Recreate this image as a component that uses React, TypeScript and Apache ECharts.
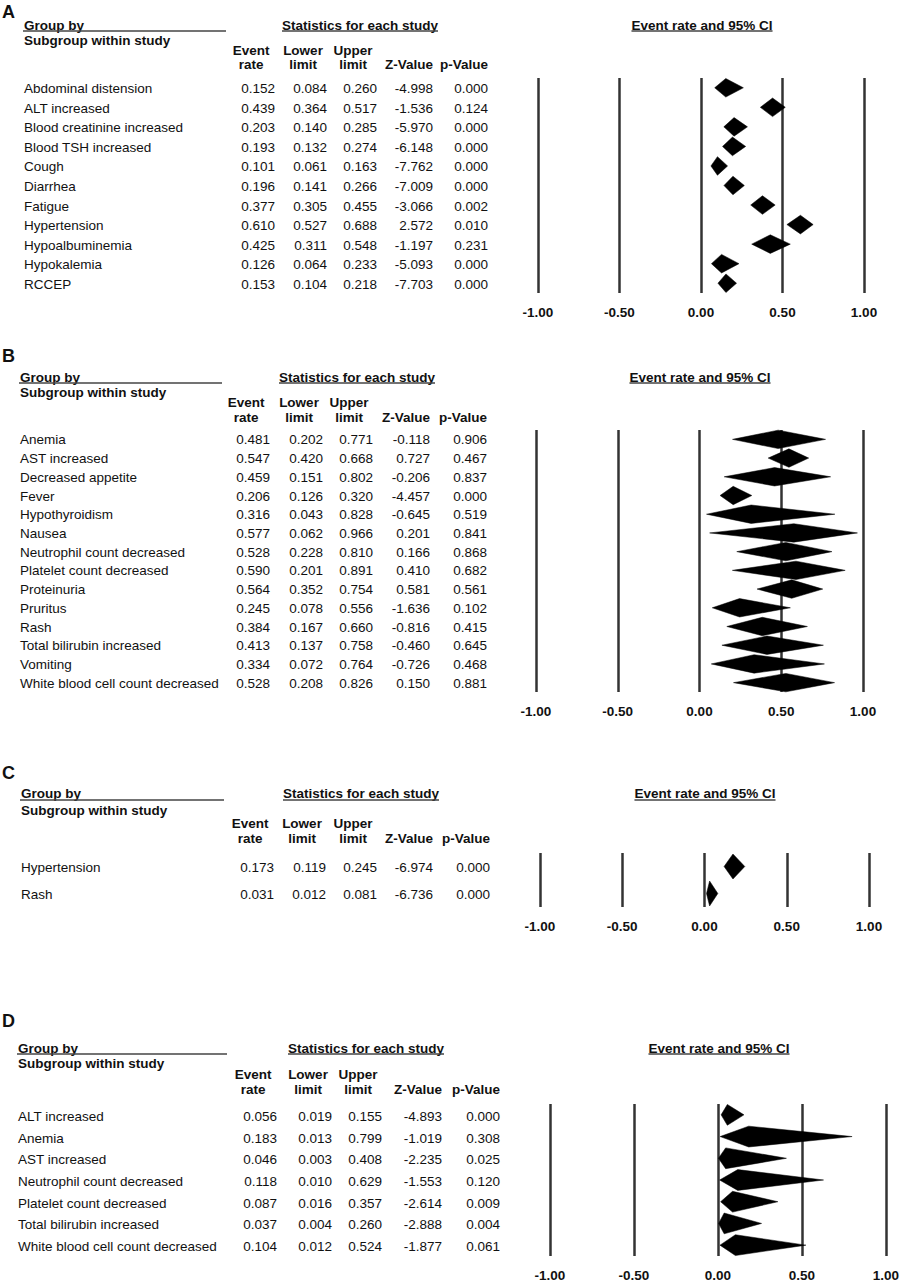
import React, { useEffect, useRef } from "react";
import * as echarts from "echarts";

const FONT = '"Liberation Sans", Arial, Helvetica, sans-serif';

// ---------- Panel A ----------
const aNames = ["Abdominal distension", "ALT increased", "Blood creatinine increased", "Blood TSH increased", "Cough", "Diarrhea", "Fatigue", "Hypertension", "Hypoalbuminemia", "Hypokalemia", "RCCEP"];
const aRate = [0.152, 0.439, 0.203, 0.193, 0.101, 0.196, 0.377, 0.610, 0.425, 0.126, 0.153];
const aLower = [0.084, 0.364, 0.140, 0.132, 0.061, 0.141, 0.305, 0.527, 0.311, 0.064, 0.104];
const aUpper = [0.260, 0.517, 0.285, 0.274, 0.163, 0.266, 0.455, 0.688, 0.548, 0.233, 0.218];
const aZ = [-4.998, -1.536, -5.970, -6.148, -7.762, -7.009, -3.066, 2.572, -1.197, -5.093, -7.703];
const aP = [0.000, 0.124, 0.000, 0.000, 0.000, 0.000, 0.002, 0.010, 0.231, 0.000, 0.000];

// ---------- Panel B ----------
const bNames = ["Anemia", "AST increased", "Decreased appetite", "Fever", "Hypothyroidism", "Nausea", "Neutrophil count decreased", "Platelet count decreased", "Proteinuria", "Pruritus", "Rash", "Total bilirubin increased", "Vomiting", "White blood cell count decreased"];
const bRate = [0.481, 0.547, 0.459, 0.206, 0.316, 0.577, 0.528, 0.590, 0.564, 0.245, 0.384, 0.413, 0.334, 0.528];
const bLower = [0.202, 0.420, 0.151, 0.126, 0.043, 0.062, 0.228, 0.201, 0.352, 0.078, 0.167, 0.137, 0.072, 0.208];
const bUpper = [0.771, 0.668, 0.802, 0.320, 0.828, 0.966, 0.810, 0.891, 0.754, 0.556, 0.660, 0.758, 0.764, 0.826];
const bZ = [-0.118, 0.727, -0.206, -4.457, -0.645, 0.201, 0.166, 0.410, 0.581, -1.636, -0.816, -0.460, -0.726, 0.150];
const bP = [0.906, 0.467, 0.837, 0.000, 0.519, 0.841, 0.868, 0.682, 0.561, 0.102, 0.415, 0.645, 0.468, 0.881];

// ---------- Panel C ----------
const cNames = ["Hypertension", "Rash"];
const cRate = [0.173, 0.031];
const cLower = [0.119, 0.012];
const cUpper = [0.245, 0.081];
const cZ = [-6.974, -6.736];
const cP = [0.000, 0.000];

// ---------- Panel D ----------
const dNames = ["ALT increased", "Anemia", "AST increased", "Neutrophil count decreased", "Platelet count decreased", "Total bilirubin increased", "White blood cell count decreased"];
const dRate = [0.056, 0.183, 0.046, 0.118, 0.087, 0.037, 0.104];
const dLower = [0.019, 0.013, 0.003, 0.010, 0.016, 0.004, 0.012];
const dUpper = [0.155, 0.799, 0.408, 0.629, 0.357, 0.260, 0.524];
const dZ = [-4.893, -1.019, -2.235, -1.553, -2.614, -2.888, -1.877];
const dP = [0.000, 0.308, 0.025, 0.120, 0.009, 0.004, 0.061];

const headTop = ["Event", "Lower", "Upper", "", ""];
const headBottom = ["rate", "limit", "limit", "Z-Value", "p-Value"];
const axisTicks = [-1, -0.5, 0, 0.5, 1];

const panels = [
  {
    letter: "A", names: aNames, rate: aRate, lower: aLower, upper: aUpper, z: aZ, p: aP,
    L: { letterY: 12, headY: 25, ulY: 31, subY: 40, evY: 50, rtY: 64, labelX: 24, ulX2: 226, cols: [275, 327, 377, 433, 488], statsX: 360, gridLeft: 538, gridWidth: 326, gridTop: 78, gridHeight: 215, titleX: 702, halfH: 9.3, tableDy: 1 },
  },
  {
    letter: "B", names: bNames, rate: bRate, lower: bLower, upper: bUpper, z: bZ, p: bP,
    L: { letterY: 356, headY: 377, ulY: 383, subY: 392, evY: 402, rtY: 417, labelX: 20, ulX2: 222, cols: [270, 323, 373, 430, 487], statsX: 357, gridLeft: 536, gridWidth: 327, gridTop: 430, gridHeight: 262, titleX: 700, halfH: 9.2, tableDy: 0.5 },
  },
  {
    letter: "C", names: cNames, rate: cRate, lower: cLower, upper: cUpper, z: cZ, p: cP,
    L: { letterY: 773, headY: 793, ulY: 800, subY: 810, evY: 823, rtY: 838, labelX: 21, ulX2: 224, cols: [274, 326, 377, 433, 490], statsX: 361, gridLeft: 540, gridWidth: 329, gridTop: 853, gridHeight: 54, titleX: 705, halfH: 12.5, tableDy: 1 },
  },
  {
    letter: "D", names: dNames, rate: dRate, lower: dLower, upper: dUpper, z: dZ, p: dP,
    L: { letterY: 1021, headY: 1048, ulY: 1054, subY: 1063, evY: 1074, rtY: 1089, labelX: 18, ulX2: 227, cols: [277, 332, 382, 442, 500], statsX: 366, gridLeft: 550, gridWidth: 337, gridTop: 1104, gridHeight: 152, titleX: 719, halfH: 10.4, tableDy: 1.5 },
  },
];

const FS = 13.5;
const TEXT = "#111";
const LINE = "#333";

let measureCtx: CanvasRenderingContext2D | null = null;
function textWidth(t: string, bold: boolean, size: number) {
  if (!measureCtx) measureCtx = document.createElement("canvas").getContext("2d");
  if (!measureCtx) return t.length * size * 0.55;
  measureCtx.font = `${bold ? "bold " : ""}${size}px ${FONT}`;
  return measureCtx.measureText(t).width;
}

function txt(text: string, x: number, y: number, align: string, bold: boolean, size = FS) {
  return {
    type: "text",
    x, y,
    silent: true,
    style: {
      text,
      fill: TEXT,
      fontFamily: FONT,
      fontSize: size,
      fontWeight: bold ? "bold" : "normal",
      align, textAlign: align,
      verticalAlign: "middle", textVerticalAlign: "middle",
    },
  };
}

function hline(x1: number, x2: number, y: number) {
  return {
    type: "line",
    silent: true,
    shape: { x1, y1: y, x2, y2: y },
    style: { stroke: "#444", lineWidth: 1.3 },
  };
}

export default function App() {
  const ref = useRef<HTMLDivElement>(null);

  useEffect(() => {
    if (!ref.current) return;
    const chart = echarts.init(ref.current, null, { renderer: "svg", width: 902, height: 1284 });

    const grids: any[] = [];
    const xAxes: any[] = [];
    const yAxes: any[] = [];
    const series: any[] = [];
    const graphics: any[] = [];

    panels.forEach((pn, i) => {
      const L = pn.L;
      const n = pn.names.length;
      grids.push({ left: L.gridLeft, top: L.gridTop, width: L.gridWidth, height: L.gridHeight, containLabel: false });
      xAxes.push({
        gridIndex: i, type: "value", min: axisTicks[0], max: axisTicks[axisTicks.length - 1], interval: 0.5,
        axisLine: { show: false }, axisTick: { show: false },
        splitLine: { show: true, showMinLine: true, showMaxLine: true, lineStyle: { color: LINE, width: 2.5 } },
        axisLabel: {
          show: true, showMinLabel: true, showMaxLabel: true, margin: 12,
          fontFamily: FONT, fontSize: FS, fontWeight: "bold", color: TEXT,
          formatter: (v: number) => v.toFixed(2),
        },
      });
      yAxes.push({ gridIndex: i, type: "value", min: -0.5, max: n - 0.5, inverse: true, show: false, splitLine: { show: false } });
      const halfH = L.halfH;
      series.push({
        type: "custom",
        xAxisIndex: i, yAxisIndex: i,
        clip: false,
        encode: { x: [0, 1, 2], y: 3 },
        data: pn.names.map((_, k) => [pn.lower[k], pn.rate[k], pn.upper[k], k]),
        renderItem: (_p: any, api: any) => {
          const row = api.value(3);
          const lo = api.coord([api.value(0), row]);
          const est = api.coord([api.value(1), row]);
          const hi = api.coord([api.value(2), row]);
          return {
            type: "polygon",
            shape: { points: [[lo[0], lo[1]], [est[0], est[1] - halfH], [hi[0], hi[1]], [est[0], est[1] + halfH]] },
            style: { fill: "#000", stroke: "#000", lineWidth: 0.5 },
          };
        },
      });

      // Panel letter
      graphics.push(txt(pn.letter, 2, L.letterY, "left", true, 18));
      // Group by
      graphics.push(txt("Group by", L.labelX, L.headY, "left", true));
      graphics.push(hline(L.labelX - 1, L.ulX2, L.ulY));
      graphics.push(txt("Subgroup within study", L.labelX, L.subY, "left", true));
      // Statistics
      const st = "Statistics for each study";
      const stW = textWidth(st, true, FS);
      graphics.push(txt(st, L.statsX, L.headY, "center", true));
      graphics.push(hline(L.statsX - stW / 2, L.statsX + stW / 2, L.ulY));
      // Column headers
      L.cols.forEach((cx, k) => {
        if (headTop[k]) graphics.push(txt(headTop[k], cx - 24, L.evY, "center", true));
        graphics.push(txt(headBottom[k], cx - 24, L.rtY, "center", true));
      });
      // Right title
      const tt = "Event rate and 95% CI";
      const ttW = textWidth(tt, true, FS);
      graphics.push(txt(tt, L.titleX, L.headY, "center", true));
      graphics.push(hline(L.titleX - ttW / 2, L.titleX + ttW / 2, L.ulY));
      // Rows
      const step = L.gridHeight / n;
      pn.names.forEach((name, k) => {
        const y = L.gridTop + (k + 0.5) * step + L.tableDy;
        graphics.push(txt(name, L.labelX, y, "left", false));
        const vals = [pn.rate[k], pn.lower[k], pn.upper[k], pn.z[k], pn.p[k]];
        vals.forEach((v, c) => {
          graphics.push(txt(v.toFixed(3), L.cols[c], y, "right", false));
        });
      });
    });

    chart.setOption({
      animation: false,
      backgroundColor: "#fff",
      grid: grids,
      xAxis: xAxes,
      yAxis: yAxes,
      series,
      graphic: { elements: graphics },
    });

    return () => chart.dispose();
  }, []);

  return (
    <div
      ref={ref}
      style={{ position: "absolute", left: 0, top: 0, width: 902, height: 1284, background: "#fff" }}
    />
  );
}
